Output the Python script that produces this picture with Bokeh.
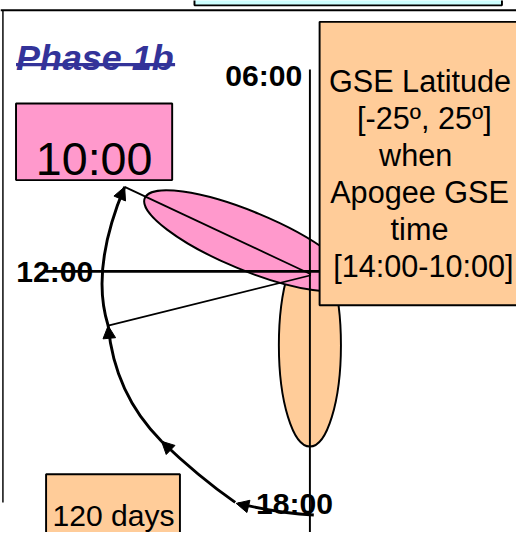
import math
from bokeh.plotting import figure
from bokeh.models import Range1d, Arrow, NormalHead
from bokeh.core.properties import value
from bokeh.embed import file_html
from bokeh.resources import INLINE

FONT = "Liberation Sans"

# ---- diagram content (slide coordinates 532 x 548, y downward) ----
title_text = "Phase 1b"
title_x, title_y = 16, 59

clock_labels = ["06:00", "12:00", "18:00"]
clock_x = [271.5, 56, 303]
clock_y = [77, 279, 518]

info_lines = ["GSE Latitude", "[-25º, 25º]", "when", "Apogee GSE", "time", "[14:00-10:00]"]
info_x = [432.5, 437, 428, 432, 432, 436]
info_y = [83, 121, 159, 197, 235, 273]

time_box_label = "10:00"
days_box_label = "120 days"
page_number = "7"

# boxes: left, right, top, bottom
box_left = [200, 329, 16, 47]
box_right = [517, 560, 177, 185]
box_top = [-30, 22, 106, 488]
box_bottom = [5, 314, 185, 580]
box_fill = ["#CCFFFF", "#FFCC99", "#FF99CC", "#FFCC99"]

# ellipses (orbit footprints)
ell_x = [319, 255]
ell_y = [355, 247.5]
ell_w = [64, 230]
ell_h = [209, 60]
ell_angle_deg = [0, -22.5]
ell_fill = ["#FFCC99", "#FF99CC"]

# straight lines
axis_h = ([47, 330], [279, 279])
axis_v = ([319, 319], [71, 560])
top_rule = ([0, 532], [10, 10])
left_rule = ([2.5, 2.5], [10, 517])
ray_x0 = [128, 111]
ray_y0 = [192, 335]
ray_x1 = [320, 320]
ray_y1 = [282, 283]

# drift path (quadratic curve pieces)
path_x0 = [323, 242, 166, 111]
path_y0 = [530, 517, 454, 335]
path_x1 = [245, 166, 111, 128]
path_y1 = [518, 454, 335, 192]
path_cx = [286, 204, 117.5, 92.5]
path_cy = [528, 490.5, 405.5, 276.5]

# arrow heads: tail -> tip
head_tail_x = [252.7, 173.2, 111.9, 124.1]
head_tail_y = [520.4, 460.9, 345.0, 201.2]
head_tip_x = [243, 166, 111, 128]
head_tip_y = [518, 454, 335, 192]

SLIDE_W, SLIDE_H = 532, 548
W, H = 516, 532
S = W / SLIDE_W  # pixel scale for sizes

def px(v):
    return f"{v * S:.1f}px"

p = figure(width=W, height=H, x_range=Range1d(0, SLIDE_W), y_range=Range1d(SLIDE_H, 0),
           output_backend="svg", toolbar_location=None, min_border=0,
           x_axis_location=None, y_axis_location=None)
p.grid.visible = False
p.outline_line_color = None
p.background_fill_color = "white"

# frame rules
p.line(top_rule[0], top_rule[1], line_color="black", line_width=2 * S)
p.line(left_rule[0], left_rule[1], line_color="black", line_width=1.5 * S)

# ellipses
p.ellipse(x=ell_x, y=ell_y, width=ell_w, height=ell_h,
          angle=[math.radians(a) for a in ell_angle_deg],
          fill_color=ell_fill, line_color="black", line_width=2 * S)

# axes lines
p.line(axis_v[0], axis_v[1], line_color="black", line_width=2 * S)
p.line(axis_h[0], axis_h[1], line_color="black", line_width=3 * S)
p.segment(x0=ray_x0, y0=ray_y0, x1=ray_x1, y1=ray_y1, line_color="black", line_width=1.8 * S)

# drift path
p.quadratic(x0=path_x0, y0=path_y0, x1=path_x1, y1=path_y1, cx=path_cx, cy=path_cy,
            line_color="black", line_width=3 * S)
for i in range(len(head_tip_x)):
    p.add_layout(Arrow(end=NormalHead(size=13 * S, fill_color="black", line_color="black", line_width=1),
                       x_start=head_tail_x[i], y_start=head_tail_y[i],
                       x_end=head_tip_x[i], y_end=head_tip_y[i],
                       line_alpha=0))

# boxes
p.quad(left=box_left, right=box_right, top=box_top, bottom=box_bottom,
       fill_color=box_fill, line_color="black", line_width=2 * S)

# title
p.text(x=[title_x], y=[title_y], text=[title_text], text_font=value(FONT),
       text_font_size=px(37), text_font_style="bold italic", text_color="#333399",
       text_baseline="alphabetic", text_align="left")
p.line([16, 180], [66, 66], line_color="#333399", line_width=3.5 * S)

# clock labels
p.text(x=clock_x, y=clock_y, text=clock_labels, text_font=value(FONT),
       text_font_size=px(31), text_font_style="bold", text_color="black",
       text_baseline="alphabetic", text_align="center")

# info box text
p.text(x=info_x, y=info_y, text=info_lines, text_font=value(FONT),
       text_font_size=px(31.5), text_color="black",
       text_baseline="alphabetic", text_align="center")

p.text(x=[96.5], y=[163], text=[time_box_label], text_font=value(FONT),
       text_font_size=px(48), text_color="black",
       text_baseline="alphabetic", text_align="center")
p.text(x=[116.5], y=[530], text=[days_box_label], text_font=value(FONT),
       text_font_size=px(31), text_color="black",
       text_baseline="alphabetic", text_align="center")

# slide page number (partly off the bottom edge, as in the slide)
p.text(x=[450.5], y=[560], text=[page_number], text_font=value(FONT),
       text_font_size=px(30), text_font_style="bold", text_color="#A0A0A0",
       text_baseline="alphabetic", text_align="center")

open("out.html", "w").write(file_html(p, INLINE))
